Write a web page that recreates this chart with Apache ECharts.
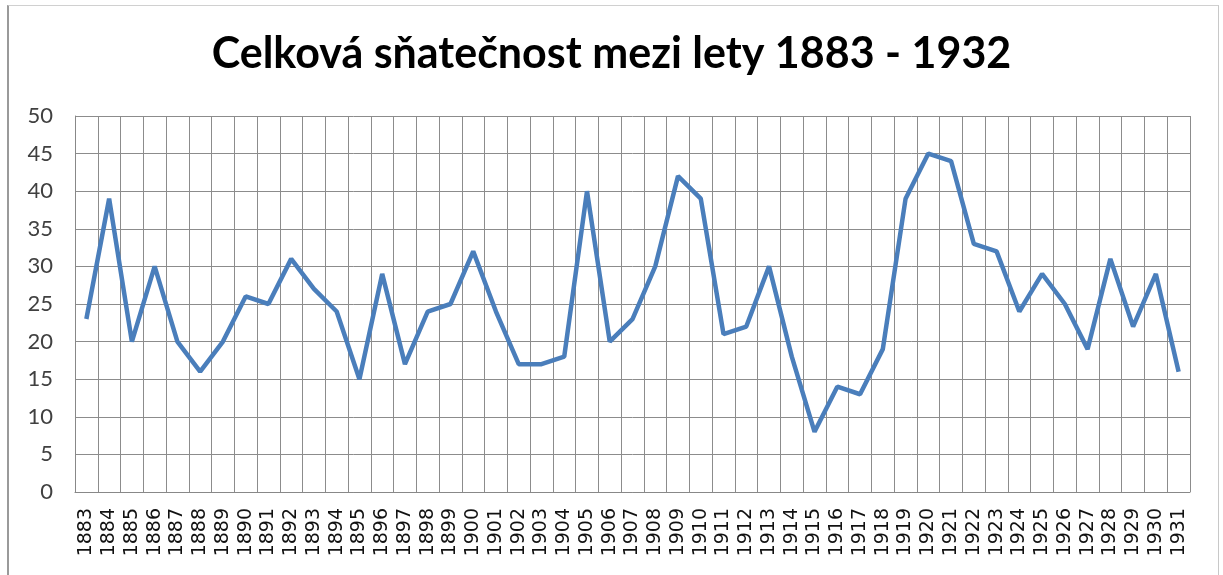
<!DOCTYPE html>
<html>
<head>
<meta charset="utf-8">
<script src="https://cdn.jsdelivr.net/npm/echarts@6/dist/echarts.min.js"></script>
<style>
  html, body { margin: 0; padding: 0; background: #ffffff; }
  #frame {
    position: absolute; left: 7px; top: 5px; width: 1209px; height: 600px;
    border-top: 1px solid #d0d0d0; border-left: 2px solid #9a9a9a; border-right: 1px solid #c8c8c8;
  }
  #chart { position: absolute; left: 0; top: 0; width: 1223px; height: 575px; }
</style>
</head>
<body>
<div id="frame"></div>
<div id="chart"></div>
<script>
// roky (kategorie osy x)
const years = [
  '1883', '1884', '1885', '1886', '1887', '1888', '1889', '1890', '1891', '1892',
  '1893', '1894', '1895', '1896', '1897', '1898', '1899', '1900', '1901', '1902',
  '1903', '1904', '1905', '1906', '1907', '1908', '1909', '1910', '1911', '1912',
  '1913', '1914', '1915', '1916', '1917', '1918', '1919', '1920', '1921', '1922',
  '1923', '1924', '1925', '1926', '1927', '1928', '1929', '1930', '1931'
];
// celková sňatečnost
const marriages = [
  23, 39, 20, 30, 20, 16, 20, 26, 25, 31,
  27, 24, 15, 29, 17, 24, 25, 32, 24, 17,
  17, 18, 40, 20, 23, 30, 42, 39, 21, 22,
  30, 18, 8, 14, 13, 19, 39, 45, 44, 33,
  32, 24, 29, 25, 19, 31, 22, 29, 16
];
const yMin = 0;
const yMax = 50;
const yStep = 5;

const chart = echarts.init(document.getElementById('chart'));
const option = {
  animation: false,
  title: {
    text: 'Celková sňatečnost mezi lety 1883 - 1932',
    left: 'center',
    top: 28,
    textStyle: {
      fontFamily: 'Lato',
      fontWeight: 'bold',
      fontSize: 43,
      color: '#000000'
    }
  },
  grid: {
    left: 75,
    right: 33,
    top: 116,
    bottom: 83,
    containLabel: false
  },
  xAxis: {
    type: 'category',
    data: years,
    boundaryGap: true,
    axisLine: { show: true, lineStyle: { color: '#888888', width: 1 } },
    axisTick: { show: false },
    axisLabel: {
      interval: 0,
      rotate: 90,
      margin: 16,
      fontFamily: 'DejaVu Sans',
      fontSize: 19,
      color: '#111111'
    },
    splitLine: { show: true, interval: 0, lineStyle: { color: '#8c8c8c', width: 1 } }
  },
  yAxis: {
    type: 'value',
    min: yMin,
    max: yMax,
    interval: yStep,
    axisLine: { show: true, lineStyle: { color: '#888888', width: 1 } },
    axisTick: { show: false },
    axisLabel: {
      margin: 22,
      fontFamily: 'Lato',
      fontSize: 22,
      color: '#404040'
    },
    splitLine: { show: true, lineStyle: { color: '#8c8c8c', width: 1 } }
  },
  series: [{
    type: 'line',
    data: marriages,
    showSymbol: false,
    smooth: false,
    lineStyle: { color: '#4a7ebb', width: 4.5 },
    itemStyle: { color: '#4a7ebb' }
  }]
};
chart.setOption(option);
</script>
</body>
</html>
